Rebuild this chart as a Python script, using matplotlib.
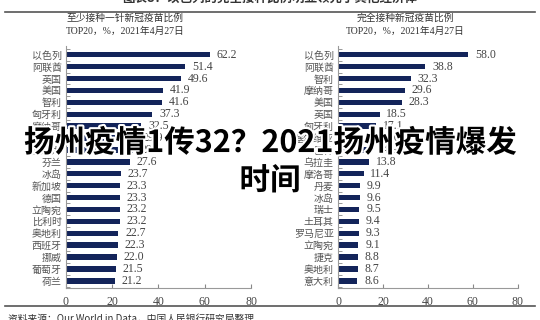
import numpy as np
import matplotlib.pyplot as plt
import matplotlib.patheffects as pe

plt.rcParams['font.family'] = ['Noto Sans CJK SC', 'DejaVu Sans']

# Data
left_countries = ['以色列', '阿联酋', '英国', '美国', '智利', '匈牙利', '摩纳哥', '乌拉圭', '加拿大', '芬兰',
                  '冰岛', '新加坡', '德国', '立陶宛', '比利时', '奥地利', '西班牙', '挪威', '葡萄牙', '荷兰']
left_values = [62.2, 51.4, 49.6, 41.9, 41.6, 37.3, 32.5, 29.9, 29.2, 27.6,
               23.7, 23.3, 23.3, 23.2, 23.2, 22.7, 22.3, 22.0, 21.5, 21.2]

right_countries = ['以色列', '阿联酋', '智利', '摩纳哥', '美国', '英国', '匈牙利', '塞尔维亚', '巴林', '乌拉圭',
                   '摩洛哥', '丹麦', '冰岛', '瑞士', '土耳其', '罗马尼亚', '立陶宛', '捷克', '奥地利', '意大利']
right_values = [58.0, 38.8, 32.3, 29.6, 28.3, 18.5, 17.1, 15.6, 14.9, 13.8,
                11.4, 9.9, 9.6, 9.5, 9.4, 9.3, 9.1, 8.8, 8.7, 8.6]

x_ticks = [0, 20, 40, 60, 80]
bar_color = '#13245a'
text_gray = '#444444'
serif = ['Liberation Serif', 'Noto Sans CJK SC']

fig = plt.figure(figsize=(5.4, 3.2), dpi=100)


def draw_panel(rect, names, values):
    ax = fig.add_axes(rect)
    y = np.arange(len(names))
    ax.barh(y, values, height=0.45, color=bar_color)
    ax.set_ylim(len(names) - 0.4, -0.7)
    ax.set_xlim(0, 80)
    ax.set_yticks(y)
    ax.set_yticklabels(names, fontsize=7.2, color='#555555')
    ax.set_yticks(np.arange(len(names) + 1) - 0.5, minor=True)
    ax.tick_params(axis='y', which='major', length=0, pad=3)
    ax.tick_params(axis='y', which='minor', length=3, direction='in', color='#888888')
    ax.set_xticks(x_ticks)
    ax.set_xticklabels([str(t) for t in x_ticks], fontsize=8.5, color=text_gray, family=serif)
    ax.tick_params(axis='x', length=3, direction='in', color='#888888', pad=6)
    for s in ['top', 'right']:
        ax.spines[s].set_visible(False)
    for s in ['left', 'bottom']:
        ax.spines[s].set_color('#999999')
        ax.spines[s].set_linewidth(0.8)
    for yi, v in zip(y, values):
        ax.text(v + 3, yi, f'{v:.1f}', va='center', ha='left', fontsize=8.5,
                color=text_gray, family=serif)
    return ax


draw_panel([0.122, 0.1, 0.343, 0.755], left_countries, left_values)
draw_panel([0.626, 0.1, 0.333, 0.755], right_countries, right_values)

# Headers
fig.text(0.5, 1.005, '图表8：以色列的完全接种比例明显领先于其他经济体', ha='center', va='center',
         fontsize=9, color='#333333', fontweight='bold')
fig.add_artist(plt.Line2D([0.01, 0.99], [0.962, 0.962], color='#555555', lw=1.2))
fig.text(0.232, 0.943, '至少接种一针新冠疫苗比例', ha='center', va='center', fontsize=7, color='#333333')
fig.text(0.232, 0.902, 'TOP20，%，2021年4月27日', ha='center', va='center', fontsize=7,
         color='#333333', family=serif)
fig.text(0.75, 0.943, '完全接种新冠疫苗比例', ha='center', va='center', fontsize=7, color='#333333')
fig.text(0.75, 0.902, 'TOP20，%，2021年4月27日', ha='center', va='center', fontsize=7,
         color='#333333', family=serif)

# Footer
fig.add_artist(plt.Line2D([0.01, 0.99], [0.043, 0.043], color='#555555', lw=1.2))
fig.text(0.015, 0.005, '资料来源：Our World in Data，中国人民银行研究局整理', ha='left', va='center',
         fontsize=7, color='#333333')

# Overlay title
halo = [pe.withStroke(linewidth=3, foreground='white')]
fig.text(0.5, 0.553, '扬州疫情1传32？2021扬州疫情爆发', ha='center', va='center', fontsize=22,
         fontweight='bold', color='black', path_effects=halo)
fig.text(0.5, 0.435, '时间', ha='center', va='center', fontsize=22,
         fontweight='bold', color='black', path_effects=halo)

fig.savefig('out.png', dpi=100)
